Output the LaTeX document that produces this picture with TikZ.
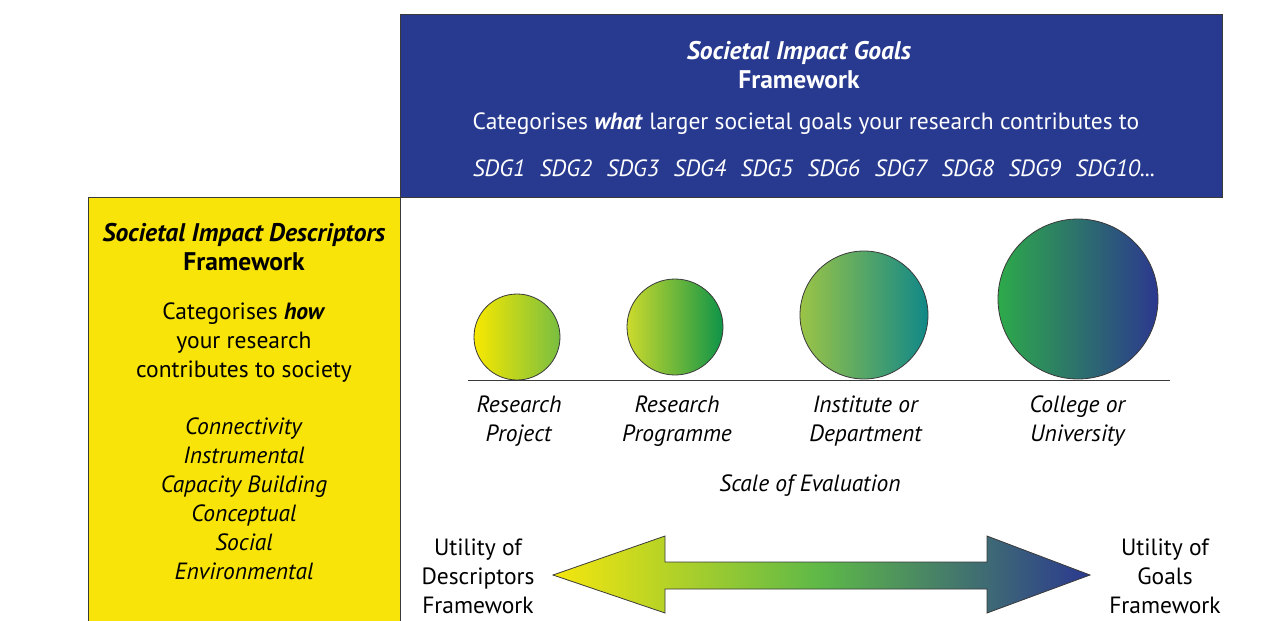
\documentclass[tikz,border=0pt]{standalone}
\usepackage{fontspec}
\setmainfont{PT Sans}
\usetikzlibrary{shadings}
\definecolor{goalblue}{HTML}{283A8F}
\definecolor{descyellow}{HTML}{F8E409}
\definecolor{edge}{HTML}{3A3A3A}
\tikzset{
  x=1pt,y=-1pt,
  txt/.style={align=center,font=\fontsize{23.5}{29}\selectfont,inner sep=0pt},
  ttl/.style={align=center,font=\fontsize{25.5}{29}\selectfont,inner sep=0pt},
  ball/.style={circle,draw=edge,line width=0.8pt,inner sep=0pt},
}
\newcommand{\sdgsp}{\hspace{0.62em}}
\begin{document}
\begin{tikzpicture}
\useasboundingbox (0,0) rectangle (1288,621);
% boxes
\node[draw=edge,line width=0.8pt,fill=goalblue,minimum width=822pt,minimum height=183pt,anchor=north west,inner sep=0pt] (goals) at (400,14) {};
\node[draw=edge,line width=0.8pt,fill=descyellow,minimum width=312pt,minimum height=430pt,anchor=north west,inner sep=0pt] (desc) at (88,197) {};
% goals text
\node[ttl,text=white] (gt) at (799,65) {\textbf{\textit{Societal Impact Goals}}\\\textbf{Framework}};
\node[txt,text=white] (gc) at (806,124) {Categorises \textbf{\textit{what}} larger societal goals your research contributes to};
\node[txt,text=white] (gs) at (814,168) {\textit{SDG1\sdgsp SDG2\sdgsp SDG3\sdgsp SDG4\sdgsp SDG5\sdgsp SDG6\sdgsp SDG7\sdgsp SDG8\sdgsp SDG9\sdgsp SDG10...}};
% descriptor text
\node[ttl] (dt) at (244,247) {\textbf{\textit{Societal Impact Descriptors}}\\\textbf{Framework}};
\node[txt] (dc) at (244,343) {Categorises \textbf{\textit{how}}\\your research\\contributes to society};
\node[txt] (dl) at (244,499) {\textit{Connectivity}\\\textit{Instrumental}\\\textit{Capacity Building}\\\textit{Conceptual}\\\textit{Social}\\\textit{Environmental}};
% ground line
\coordinate (g1) at (468,380);
\coordinate (g2) at (1170,380);
\draw[edge,line width=0.9pt] (g1) -- (g2);
% circles
\node[ball,minimum size=86pt,left color={rgb,255:red,248;green,232;blue,0},right color={rgb,255:red,120;green,190;blue,65}] (c1) at (517,337) {};
\node[ball,minimum size=96pt,left color={rgb,255:red,205;green,218;blue,45},right color={rgb,255:red,14;green,148;blue,72}] (c2) at (675,327) {};
\node[ball,minimum size=128pt,left color={rgb,255:red,155;green,196;blue,70},right color={rgb,255:red,16;green,136;blue,136}] (c3) at (864,315) {};
\node[ball,minimum size=160pt,left color={rgb,255:red,45;green,170;blue,74},right color={rgb,255:red,44;green,56;blue,143}] (c4) at (1078,299) {};
% scale labels
\node[txt] (l1) at (519,421) {\textit{Research}\\\textit{Project}};
\node[txt] (l2) at (677,421) {\textit{Research}\\\textit{Programme}};
\node[txt] (l3) at (866,421) {\textit{Institute or}\\\textit{Department}};
\node[txt] (l4) at (1078,421) {\textit{College or}\\\textit{University}};
\node[txt] (scale) at (810,486) {\textit{Scale of Evaluation}};
% double arrow
\draw[edge,line width=0.8pt,left color={rgb,255:red,246;green,230;blue,14},right color={rgb,255:red,43;green,57;blue,144},middle color={rgb,255:red,93;green,184;blue,72}]
  (553,575) -- (665,536) -- (665,562) -- (987,562) -- (987,536) -- (1090,575)
  -- (987,613) -- (987,589) -- (665,589) -- (665,613) -- cycle;
\node[txt] (ul) at (478,576) {Utility of\\Descriptors\\Framework};
\node[txt] (ur) at (1165,576) {Utility of\\Goals\\Framework};
\end{tikzpicture}
\end{document}
